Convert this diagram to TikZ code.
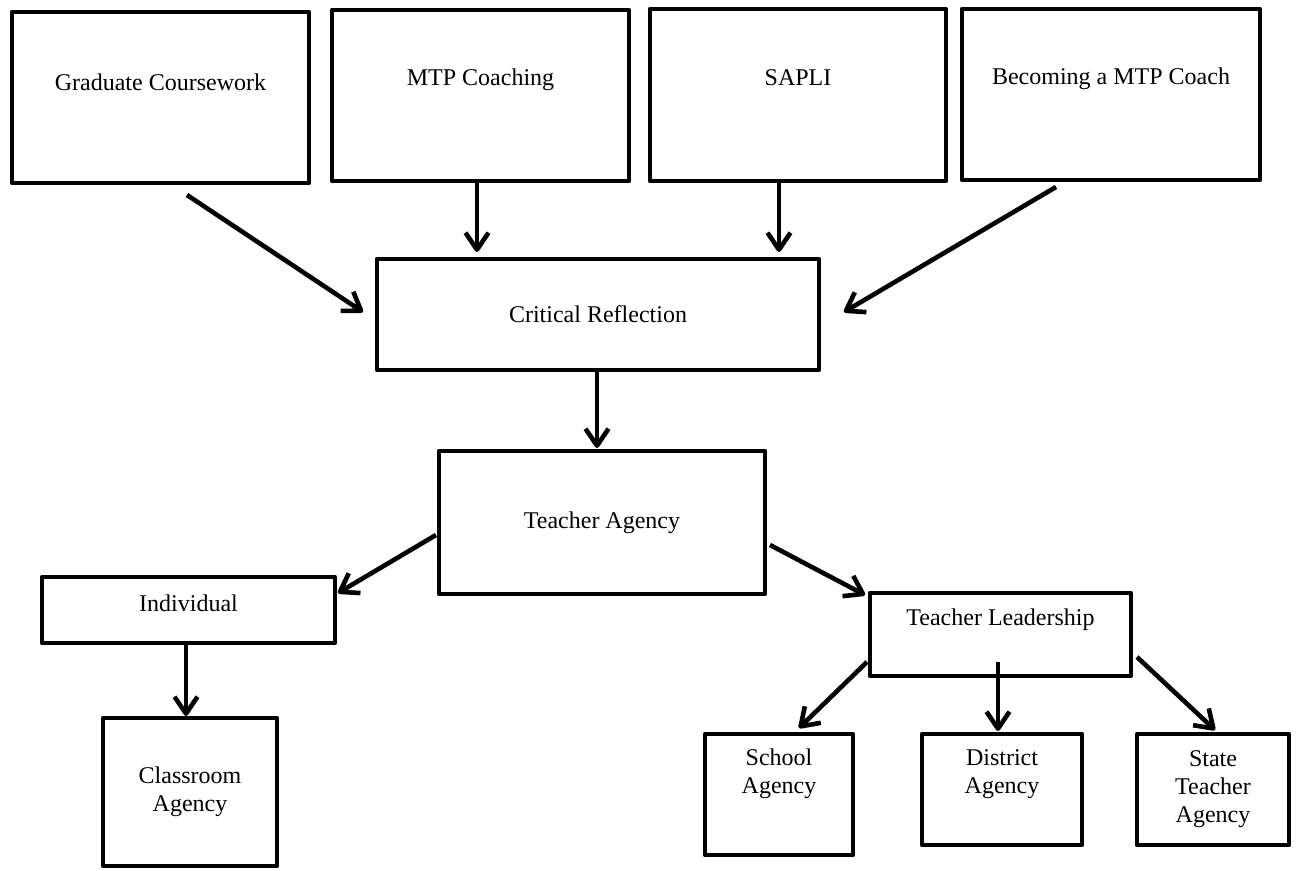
\documentclass[tikz,border=0pt]{standalone}
\usepackage{fontspec}
\setmainfont{Liberation Serif}
\usepackage{tikz}
\usetikzlibrary{arrows.meta, calc}

\tikzset{
  box/.style={draw, line width=2.4pt, line join=round, inner sep=0pt, outer sep=0pt, align=center},
  arr/.style={line width=2.3pt, -{Straight Barb[length=8.5pt, width=11.5pt, line join=round]}}
}

\begin{document}
\begin{tikzpicture}[x=0.5pt, y=-0.5pt, font=\fontsize{12}{14}\selectfont]
   \useasboundingbox (0,0) rectangle (1298,871);

   % top row
   \node[box, minimum width=148.5pt, minimum height=85.5pt, label={[yshift=7.75pt]center:Graduate Coursework}] (grad) at (160.5,97.5) {};
   \node[box, minimum width=148.5pt, minimum height=85.5pt, label={[yshift=7.75pt]center:MTP Coaching}] (mtp) at (480.5,95.5) {};
   \node[box, minimum width=148pt, minimum height=86pt, label={[yshift=8.5pt]center:SAPLI}] (sapli) at (798,95) {};
   \node[box, minimum width=149pt, minimum height=85.5pt, label={[yshift=7.75pt]center:Becoming a MTP Coach}] (coach) at (1111,94.5) {};

   \node[box, minimum width=221pt, minimum height=55.5pt] (refl) at (598,314.5) {Critical Reflection};
   \node[box, minimum width=163pt, minimum height=71.5pt] (agency) at (602,522.5) {Teacher Agency};

   \node[box, minimum width=146.5pt, minimum height=33pt, label={[yshift=3.5pt]center:Individual}] (indiv) at (188.5,610) {};
   \node[box, minimum width=130.5pt, minimum height=41.5pt, label={[yshift=7.25pt]center:Teacher Leadership}] (lead) at (1000.5,634.5) {};

   % bottom row
   \node[box, minimum width=87pt, minimum height=74pt] (class) at (190,792) {Classroom\\Agency};
   \node[box, minimum width=74pt, minimum height=60.5pt, label={[yshift=10.25pt, align=center]center:School\\Agency}] (school) at (779,794.5) {};
   \node[box, minimum width=80pt, minimum height=55.5pt, label={[yshift=7.75pt, align=center]center:District\\Agency}] (district) at (1002,789.5) {};
   \node[box, minimum width=76pt, minimum height=55.5pt] (state) at (1213,789.5) {State\\Teacher\\Agency};

   \draw[arr] ($(grad.south)+(26.5,12)$) -- ($(refl.west)+(-14,-2.5)$);
   \draw[arr] ($(mtp.south)+(-3.5,-1)$) -- ($(refl.north)+(-121,-7)$);
   \draw[arr] ($(sapli.south)+(-19,2)$) -- ($(refl.north)+(181,-7)$);
   \draw[arr] ($(coach.south)+(-55,7)$) -- ($(refl.east)+(25,-2.5)$);
   \draw[arr] ($(refl.south)+(-1,2)$) -- ($(agency.north)+(-5,-3)$);
   \draw[arr] ($(agency.west)+(-3,12.5)$) -- ($(indiv.north east)+(3,16)$);
   \draw[arr] ($(agency.east)+(5,22.5)$) -- ($(lead.north west)+(-5,2)$);
   \draw[arr] ($(indiv.south)+(-2.5,0)$) -- ($(class.north)+(-4,-2)$);
   \draw[arr] ($(lead.south west)+(-3,-14)$) -- ($(school.north)+(20,-6)$);
   \draw[arr] ($(lead.south)+(-2.5,-14)$) -- ($(district.north)+(-4,-3)$);
   \draw[arr] ($(lead.south east)+(6,-19)$) -- ($(state.north)+(2,-4)$);
\end{tikzpicture}
\end{document}
